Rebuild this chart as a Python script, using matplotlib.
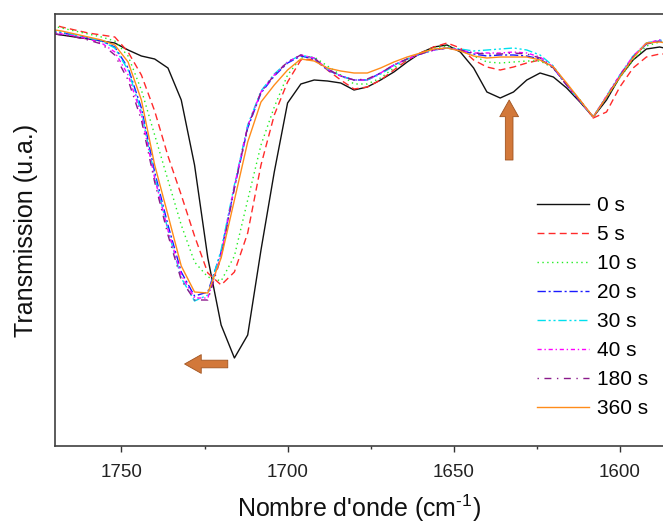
import matplotlib
matplotlib.use('Agg')
import matplotlib.pyplot as plt
from matplotlib.ticker import MultipleLocator

plt.rcParams['font.family'] = ['Liberation Sans', 'DejaVu Sans']
plt.rcParams['mathtext.fontset'] = 'custom'
plt.rcParams['mathtext.rm'] = 'Liberation Sans'

# wavenumber grid (cm-1), 4 cm-1 step
wavenumber = list(range(1772, 1583, -4))

t_0s = [93.4, 93.0, 92.6, 92.2, 91.8, 91.4, 90.0, 88.8, 88.2, 86.4, 80.0, 67.0,
        48.4, 35.0, 28.4, 33.0, 50.0, 65.6, 79.4, 83.2, 84.0, 83.8, 83.4, 82.0,
        82.6, 84.0, 85.6, 87.6, 89.4, 90.6, 91.0, 89.6, 86.4, 81.6, 80.4, 81.6,
        84.0, 85.4, 84.6, 82.4, 79.6, 76.6, 80.0, 84.6, 88.0, 90.2, 90.6, 90.0]
t_5s = [95.4, 94.6, 94.0, 93.4, 93.0, 92.6, 89.6, 85.0, 77.8, 68.8, 61.0, 52.8,
        45.4, 43.0, 45.6, 53.4, 67.0, 77.0, 83.6, 88.0, 88.2, 86.0, 84.0, 82.2,
        82.6, 84.0, 86.0, 88.0, 89.4, 90.6, 91.4, 90.4, 88.0, 86.6, 86.0, 86.6,
        87.4, 88.0, 86.6, 83.0, 80.0, 76.4, 77.6, 82.6, 86.4, 88.6, 89.2, 89.2]
t_10s = [95.0, 94.4, 93.8, 93.2, 92.6, 91.8, 88.8, 82.0, 73.0, 64.0, 55.0, 47.6,
         44.6, 43.8, 48.8, 60.0, 71.0, 78.6, 85.0, 88.4, 88.6, 86.8, 85.0, 83.2,
         83.2, 84.4, 86.4, 88.2, 89.4, 90.4, 90.8, 90.0, 88.8, 87.6, 87.4, 87.6,
         87.8, 87.8, 86.4, 83.0, 80.0, 76.6, 80.4, 84.4, 88.0, 90.8, 91.6, 91.2]
t_20s = [93.8, 93.4, 93.0, 92.4, 91.8, 90.6, 86.4, 78.4, 65.6, 55.0, 45.6, 40.8,
         41.6, 49.6, 62.4, 74.4, 81.4, 84.8, 87.4, 88.8, 88.2, 86.0, 84.8, 84.0,
         84.0, 85.4, 87.0, 88.2, 89.2, 90.0, 90.4, 90.0, 89.2, 88.8, 89.0, 89.0,
         88.8, 88.2, 86.4, 83.0, 79.8, 76.6, 80.6, 84.8, 88.6, 91.2, 91.8, 91.4]
t_30s = [94.0, 93.6, 93.0, 92.4, 91.8, 90.4, 86.0, 77.6, 64.8, 54.0, 44.4, 39.8,
         41.0, 50.0, 63.0, 75.0, 81.8, 85.2, 87.6, 89.0, 88.4, 86.2, 84.8, 84.0,
         84.0, 85.2, 86.8, 88.2, 89.2, 90.0, 90.4, 90.2, 89.8, 90.0, 90.2, 90.4,
         90.0, 89.0, 86.8, 83.0, 79.8, 76.6, 80.8, 85.0, 88.8, 91.4, 92.0, 91.6]
t_40s = [93.6, 93.2, 92.8, 92.2, 91.4, 89.6, 85.0, 77.0, 64.4, 54.0, 45.0, 40.4,
         40.4, 49.0, 62.8, 74.8, 81.6, 85.0, 87.6, 89.0, 88.4, 86.2, 84.8, 84.0,
         84.0, 85.4, 87.0, 88.2, 89.2, 90.0, 90.4, 90.0, 89.4, 89.4, 89.4, 89.6,
         89.4, 88.6, 86.6, 83.0, 79.8, 76.6, 80.8, 85.0, 88.8, 91.4, 92.0, 91.6]
t_180s = [93.4, 93.0, 92.6, 92.0, 91.2, 89.0, 84.0, 76.0, 63.6, 53.0, 44.0, 40.0,
          40.0, 48.6, 62.4, 74.6, 81.6, 85.0, 87.6, 89.0, 88.4, 86.2, 84.8, 84.0,
          84.2, 85.4, 87.0, 88.2, 89.2, 90.0, 90.4, 90.0, 89.4, 89.2, 89.2, 89.4,
          89.2, 88.4, 86.4, 83.0, 79.8, 76.6, 80.6, 84.8, 88.6, 91.2, 91.8, 91.4]
t_360s = [94.2, 93.8, 93.2, 92.6, 92.0, 91.0, 87.6, 80.0, 67.0, 57.0, 46.8, 41.6,
          41.4, 48.4, 60.0, 71.6, 79.6, 83.0, 86.0, 88.2, 87.8, 86.4, 85.8, 85.4,
          85.4, 86.4, 87.6, 88.6, 89.4, 90.2, 90.4, 89.8, 88.8, 88.4, 88.6, 88.6,
          88.6, 88.0, 86.6, 83.4, 80.0, 76.6, 80.6, 84.6, 88.4, 91.4, 91.6, 91.2]

labels = ['0 s', '5 s', '10 s', '20 s', '30 s', '40 s', '180 s', '360 s']
series = [t_0s, t_5s, t_10s, t_20s, t_30s, t_40s, t_180s, t_360s]
colors = ['#111111', '#ff2a2a', '#22ee22', '#1a1aff', '#00e0ee', '#ff00ff', '#8b1a8b', '#ff8c1a']
styles = ['-', (0, (5, 3)), (0, (1, 2.5)), (0, (6, 2, 1.5, 2)),
          (0, (6, 2, 1.5, 2, 1.5, 2)), (0, (3, 2, 1, 2)), (0, (1, 4, 5, 4)), '-']

fig = plt.figure(figsize=(6.63, 5.23), dpi=100)
ax = fig.add_axes([55 / 663, 77 / 523, 608 / 663, 432 / 523])

for y, lab, c, ls in zip(series, labels, colors, styles):
    ax.plot(wavenumber, y, color=c, linestyle=ls, lw=1.0, label=lab)

ax.set_xlim(1770, 1587)
ax.set_ylim(10.8, 97.2)

ax.xaxis.set_major_locator(MultipleLocator(50))
ax.xaxis.set_minor_locator(MultipleLocator(25))
ax.tick_params(axis='x', which='major', direction='out', length=4, width=1,
               color='#333333', labelsize=13.5, labelcolor='#222222', pad=9)
ax.tick_params(axis='x', which='minor', direction='out', length=2.5, width=1, color='#333333')
ax.set_yticks([])
for s in ['top', 'bottom', 'left']:
    ax.spines[s].set_color('#404040')
    ax.spines[s].set_linewidth(1.2)
ax.spines['right'].set_visible(False)

ax.set_xlabel("Nombre d'onde (cm$^{\\text{-1}}$)", fontsize=18, color='#111111', labelpad=8)
ax.set_ylabel('Transmission (u.a.)', fontsize=18, color='#111111', labelpad=12)

arrow = dict(arrowstyle='simple,head_length=1.2,head_width=1.35,tail_width=0.55',
             mutation_scale=10, fc='#d2783a', ec='#a0531f', lw=0.6,
             shrinkA=0, shrinkB=0)
ax.annotate('', xy=(1731, 27.2), xytext=(1718, 27.2), arrowprops=arrow)
ax.annotate('', xy=(1633.3, 80.0), xytext=(1633.3, 68.0), arrowprops=arrow)

ax.legend(loc='upper left', bbox_to_anchor=(537 / 663, 1 - 196 / 523),
          bbox_transform=fig.transFigure, frameon=False, fontsize=15,
          handlelength=2.5, handletextpad=0.4, labelspacing=0.48,
          borderpad=0, borderaxespad=0)

fig.savefig('out.png', dpi=100)
